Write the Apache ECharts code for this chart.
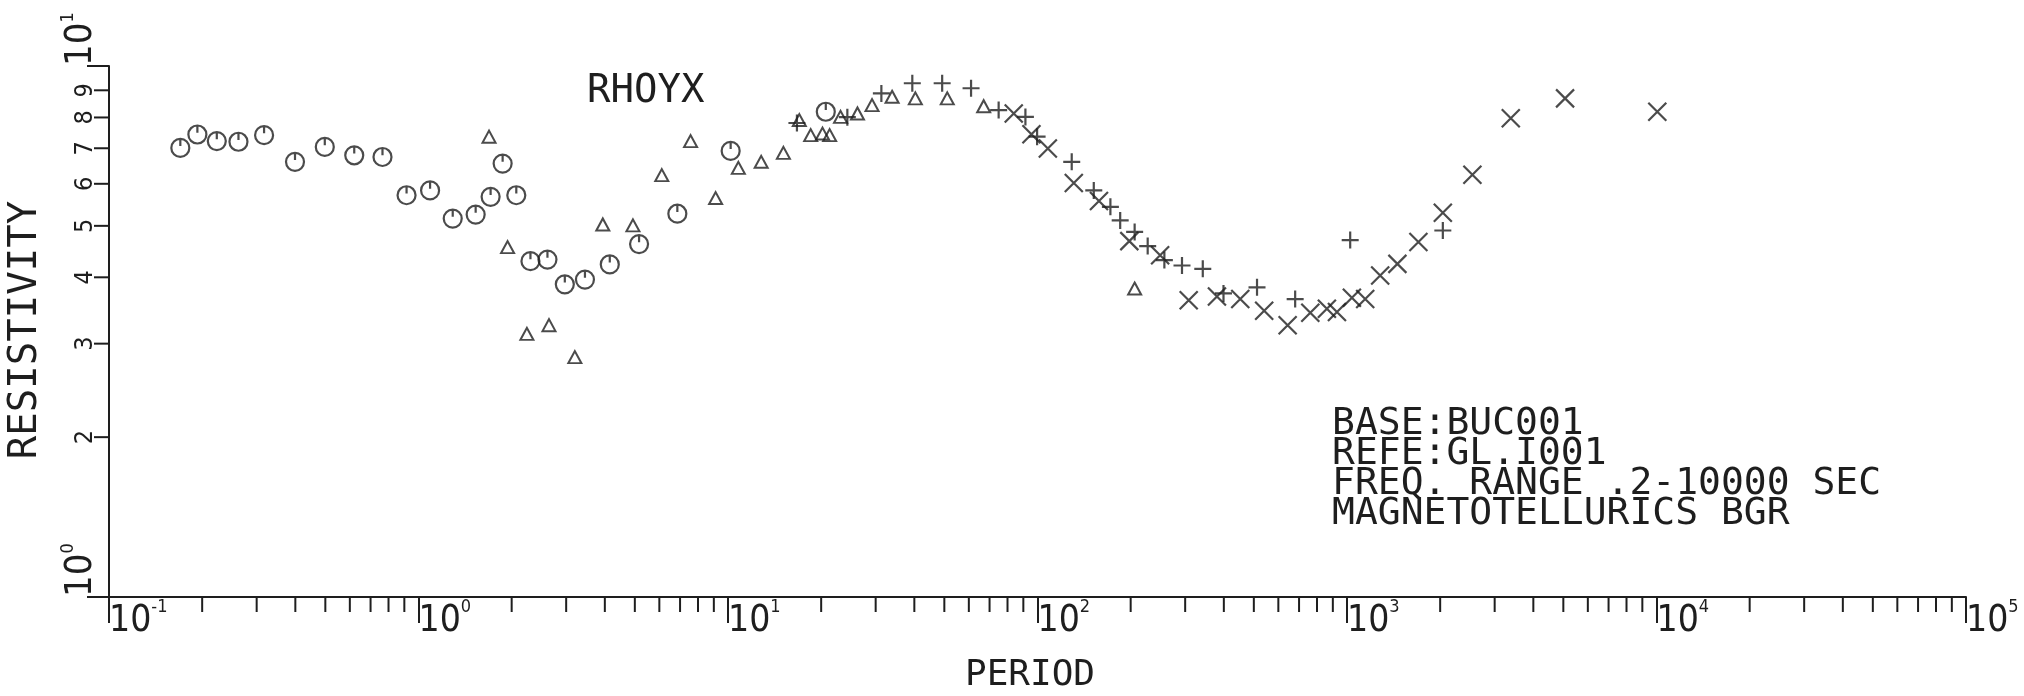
<!DOCTYPE html>
<html>
<head>
<meta charset="utf-8">
<title>RHOYX</title>
<script src="https://cdn.jsdelivr.net/npm/echarts@6/dist/echarts.min.js"></script>
<style>
  html, body { margin: 0; padding: 0; background: #fff; }
  #chart { width: 2024px; height: 696px; }
</style>
</head>
<body>
<div id="chart"></div>
<script>
// values: period in seconds, apparent resistivity
const circlePeriod = [0.170, 0.193, 0.223, 0.262, 0.317, 0.399, 0.498, 0.620, 0.765, 0.915,
  1.09, 1.29, 1.53, 1.71, 1.87, 2.07, 2.30, 2.61, 2.97, 3.45, 4.15, 5.16, 6.86, 10.2, 20.7];
const circleRho = [7.01, 7.43, 7.22, 7.20, 7.41, 6.60, 7.04, 6.79, 6.74, 5.71,
  5.83, 5.16, 5.25, 5.67, 6.55, 5.71, 4.29, 4.32, 3.88, 3.96, 4.23, 4.62, 5.27, 6.92, 8.20];

const trianglePeriod = [1.69, 1.94, 2.24, 2.64, 3.20, 3.94, 4.93, 6.11, 7.57, 9.12,
  10.8, 12.8, 15.1, 17.0, 18.5, 20.2, 21.3, 23.1, 26.2, 29.2, 33.9, 40.3, 51.1, 67.0, 206];
const triangleRho = [7.36, 4.56, 3.13, 3.25, 2.83, 5.03, 5.01, 6.23, 7.22, 5.64,
  6.43, 6.60, 6.86, 7.91, 7.41, 7.46, 7.41, 8.02, 8.14, 8.44, 8.75, 8.69, 8.69, 8.40, 3.81];

const plusPeriod = [16.7, 24.3, 31.3, 39.4, 49.2, 61.0, 74.9, 91.4, 99.7, 129,
  152, 172, 185, 206, 227, 257, 293, 342, 399, 512, 680, 1024, 2040];
const plusRho = [7.81, 8.01, 8.88, 9.28, 9.28, 9.08, 8.26, 8.02, 7.36, 6.60,
  5.83, 5.43, 5.12, 4.87, 4.58, 4.31, 4.21, 4.15, 3.73, 3.83, 3.64, 4.70, 4.90];

const crossPeriod = [83.8, 95.6, 108, 131, 158, 198, 249, 308, 380, 452,
  540, 643, 761, 861, 928, 1037, 1145, 1280, 1455, 1701, 2040, 2542, 3382, 5065, 10060];
const crossRho = [8.14, 7.44, 6.99, 6.02, 5.57, 4.68, 4.40, 3.62, 3.68, 3.64,
  3.46, 3.25, 3.43, 3.49, 3.44, 3.66, 3.64, 4.03, 4.24, 4.66, 5.29, 6.24, 7.97, 8.69, 8.20];

// axis ranges and the in-between tick marks
const xMin = 0.1, xMax = 100000;
const yMin = 1, yMax = 10;
const xMinorTicks = [0.2, 0.3, 0.4, 0.5, 0.6, 0.7, 0.8, 0.9,
  2, 3, 4, 5, 6, 7, 8, 9,
  20, 30, 40, 50, 60, 70, 80, 90,
  200, 300, 400, 500, 600, 700, 800, 900,
  2000, 3000, 4000, 5000, 6000, 7000, 8000, 9000,
  20000, 30000, 40000, 50000, 60000, 70000, 80000, 90000];
const yMinorTicks = [2, 3, 4, 5, 6, 7, 8, 9];
const yMinorLabels = ['2', '3', '4', '5', '6', '7', '8', '9'];

const ink = '#1e1e1e';
const mono = "'DejaVu Sans Mono', monospace";
const narrow = "'DejaVu Sans Condensed', 'Liberation Sans Narrow', sans-serif";

const pairs = (xs, ys) => xs.map((x, i) => [x, ys[i]]);

const circleSym = 'path://M0,-10 A10,10 0 1 1 0,10 A10,10 0 1 1 0,-10 Z M0,-10 L0,-2';
const triSym = 'path://M0,-10 L9,6 L-9,6 Z';
const plusSym = 'path://M-10,0 L10,0 M0,-10 L0,10';
const crossSym = 'path://M-10,-10 L10,10 M-10,10 L10,-10';

function decadeLabel(v) {
  const e = Math.round(Math.log10(v));
  return '{b|10}{s|' + e + '}';
}

let chart = echarts.init(document.getElementById('chart'));

let option = {
  backgroundColor: '#fff',
  animation: false,
  grid: { left: 109, top: 66, width: 1857, height: 531 },
  xAxis: {
    type: 'log',
    logBase: 10,
    min: xMin,
    max: xMax,
    axisLine: { lineStyle: { color: ink, width: 2 } },
    axisTick: { length: 26, lineStyle: { color: ink, width: 2 } },
    splitLine: { show: false },
    axisLabel: {
      showMinLabel: true,
      showMaxLabel: true,
      align: 'left',
      margin: 1,
      formatter: decadeLabel,
      rich: {
        b: { fontFamily: narrow, fontSize: 37, lineHeight: 46, color: ink },
        s: { fontFamily: narrow, fontSize: 18, lineHeight: 20, color: ink, verticalAlign: 'top' }
      }
    }
  },
  yAxis: {
    type: 'log',
    logBase: 10,
    min: yMin,
    max: yMax,
    axisLine: { lineStyle: { color: ink, width: 2 } },
    axisTick: { length: 22, lineStyle: { color: ink, width: 2 } },
    splitLine: { show: false },
    axisLabel: {
      showMinLabel: true,
      showMaxLabel: true,
      rotate: 90,
      align: 'left',
      verticalAlign: 'middle',
      margin: 28,
      formatter: decadeLabel,
      rich: {
        b: { fontFamily: narrow, fontSize: 38, lineHeight: 44, color: ink },
        s: { fontFamily: narrow, fontSize: 18, lineHeight: 19, color: ink, verticalAlign: 'top' }
      }
    }
  },
  graphic: [
    {
      type: 'text', x: 26, y: 330, rotation: Math.PI / 2,
      style: { text: 'RESISTIVITY', font: '39px ' + mono, fill: ink,
        textAlign: 'center', textVerticalAlign: 'middle', align: 'center', verticalAlign: 'middle' }
    },
    {
      type: 'text', x: 1030, y: 676,
      style: { text: 'PERIOD', font: '36px ' + mono, fill: ink,
        textAlign: 'center', textVerticalAlign: 'middle', align: 'center', verticalAlign: 'middle' }
    },
    {
      type: 'text', x: 587, y: 92,
      style: { text: 'RHOYX', font: '39px ' + mono, fill: ink,
        textAlign: 'left', textVerticalAlign: 'middle', align: 'left', verticalAlign: 'middle' }
    },
    {
      type: 'text', x: 1332, y: 409,
      style: {
        text: 'BASE:BUC001\nREFE:GL.I001\nFREQ. RANGE .2-10000 SEC\nMAGNETOTELLURICS BGR',
        font: '38px ' + mono, fill: ink, lineHeight: 30,
        textAlign: 'left', textVerticalAlign: 'top', align: 'left', verticalAlign: 'top'
      }
    }
  ],
  series: [
    {
      name: 'xMinor',
      type: 'custom',
      silent: true,
      data: xMinorTicks.map(v => [v, yMin]),
      renderItem: function (params, api) {
        const p = api.coord([api.value(0), api.value(1)]);
        return {
          type: 'line',
          shape: { x1: p[0], y1: p[1], x2: p[0], y2: p[1] + 15 },
          style: { stroke: ink, lineWidth: 2 }
        };
      }
    },
    {
      name: 'yMinor',
      type: 'custom',
      silent: true,
      data: yMinorTicks.map(v => [xMin, v]),
      renderItem: function (params, api) {
        const p = api.coord([api.value(0), api.value(1)]);
        return {
          type: 'group',
          children: [
            {
              type: 'line',
              shape: { x1: p[0] - 15, y1: p[1], x2: p[0], y2: p[1] },
              style: { stroke: ink, lineWidth: 2 }
            },
            {
              type: 'text',
              x: p[0] - 24, y: p[1], rotation: Math.PI / 2,
              style: { text: yMinorLabels[params.dataIndex], font: '25px ' + narrow, fill: ink,
                textAlign: 'center', textVerticalAlign: 'middle', align: 'center', verticalAlign: 'middle' }
            }
          ]
        };
      }
    },
    {
      name: 'circle',
      type: 'scatter',
      symbol: circleSym,
      symbolSize: 18,
      itemStyle: { color: 'none', borderColor: ink, borderWidth: 2.2 },
      data: pairs(circlePeriod, circleRho)
    },
    {
      name: 'triangle',
      type: 'scatter',
      symbol: triSym,
      symbolSize: [13, 12],
      itemStyle: { color: 'none', borderColor: ink, borderWidth: 2 },
      data: pairs(trianglePeriod, triangleRho)
    },
    {
      name: 'plus',
      type: 'scatter',
      symbol: plusSym,
      symbolSize: 17,
      itemStyle: { color: 'none', borderColor: ink, borderWidth: 2.2 },
      data: pairs(plusPeriod, plusRho)
    },
    {
      name: 'cross',
      type: 'scatter',
      symbol: crossSym,
      symbolSize: 18,
      itemStyle: { color: 'none', borderColor: ink, borderWidth: 2.2 },
      data: pairs(crossPeriod, crossRho)
    }
  ]
};

chart.setOption(option);
</script>
</body>
</html>
